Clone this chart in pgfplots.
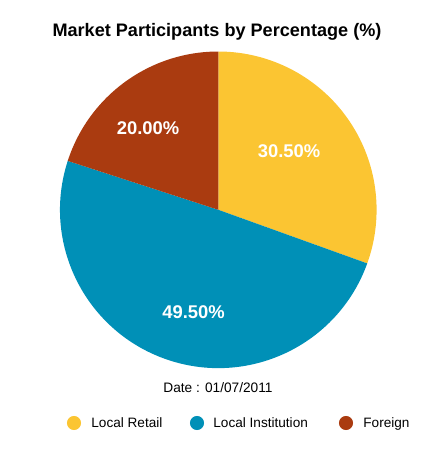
\documentclass[border=0pt]{standalone}
\usepackage{pgfplots}
\pgfplotsset{compat=1.18}
\usepackage{pgfplotstable}
\usepackage{fontspec}
\setmainfont{Liberation Sans}
\definecolor{cRetail}{RGB}{251,197,50}
\definecolor{cInst}{RGB}{0,144,183}
\definecolor{cForeign}{RGB}{170,59,16}
% value, colour, label position (pixel coords, y from bottom)
\pgfplotstableread{
value color lx ly
30.50 cRetail 289 312
49.50 cInst 193.5 150.5
20.00 cForeign 148 335
}\pietable
\begin{document}
\begin{tikzpicture}
\begin{axis}[
  width=223.5pt, height=231.5pt, scale only axis,
  xmin=0, xmax=447, ymin=0, ymax=463,
  axis lines=none, ticks=none, clip=false,
  legend style={draw=none},
  /pgf/number format/assume math mode=true
]
\path (axis cs:0,0) rectangle (axis cs:447,463);
\pgfplotsextra{
  \def\cx{218.3}\def\cy{253.2}\def\r{158.3}
  \pgfplotstablegetrowsof{\pietable}
  \pgfmathtruncatemacro\nrows{\pgfplotsretval-1}
  \xdef\startang{90}
  \foreach \i in {0,...,\nrows}{
    \pgfplotstablegetelem{\i}{value}\of\pietable \let\v\pgfplotsretval
    \pgfplotstablegetelem{\i}{color}\of\pietable \let\c\pgfplotsretval
    \pgfmathsetmacro\endang{\startang-3.6*\v}
    \fill[\c] (axis cs:\cx,\cy) -- (axis cs:{\cx+\r*cos(\startang)},{\cy+\r*sin(\startang)})
      arc[start angle=\startang, end angle=\endang, radius=0.5pt*\r] -- cycle;
    \xdef\startang{\endang}
  }
  \foreach \i in {0,...,\nrows}{
    \pgfplotstablegetelem{\i}{value}\of\pietable \let\v\pgfplotsretval
    \pgfplotstablegetelem{\i}{lx}\of\pietable \let\lx\pgfplotsretval
    \pgfplotstablegetelem{\i}{ly}\of\pietable \let\ly\pgfplotsretval
    \node[text=white, font=\fontsize{9.2pt}{11pt}\selectfont\bfseries, inner sep=0pt]
      at (axis cs:\lx,\ly) {\pgfmathprintnumber[fixed, fixed zerofill, precision=2, assume math mode=true]{\v}\%};
  }
}
\node[font=\fontsize{9.05pt}{10pt}\selectfont\bfseries, inner sep=0pt, anchor=base] at (axis cs:217,427) {Market Participants by Percentage (\%)};
\node[font=\fontsize{6.85pt}{8pt}\selectfont, inner sep=0pt, anchor=base] at (axis cs:218,70) {Date : 01/07/2011};
% legend
\addplot[only marks, mark=*, mark size=3.3pt, mark options={draw=cRetail, fill=cRetail}] coordinates {(74,40)};
\addplot[only marks, mark=*, mark size=3.3pt, mark options={draw=cInst, fill=cInst}] coordinates {(197,40)};
\addplot[only marks, mark=*, mark size=3.3pt, mark options={draw=cForeign, fill=cForeign}] coordinates {(346,40)};
\node[font=\fontsize{6.8pt}{8pt}\selectfont, inner sep=0pt, anchor=base west] at (axis cs:91,36) {Local Retail};
\node[font=\fontsize{6.8pt}{8pt}\selectfont, inner sep=0pt, anchor=base west] at (axis cs:213,36) {Local Institution};
\node[font=\fontsize{6.8pt}{8pt}\selectfont, inner sep=0pt, anchor=base west] at (axis cs:363,36) {Foreign};
\end{axis}
\end{tikzpicture}
\end{document}
